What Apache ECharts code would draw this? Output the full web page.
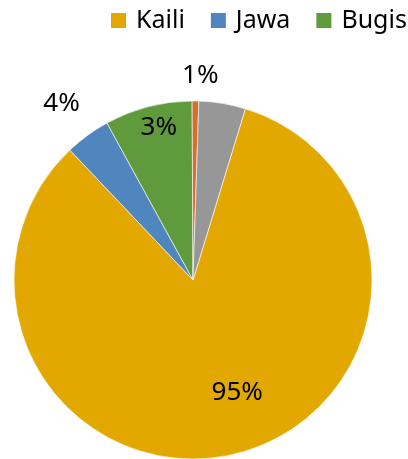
<!DOCTYPE html>
<html>
  <head>
    <meta charset="UTF-8">
    <title>Pie</title>
    <script src="https://cdn.jsdelivr.net/npm/echarts@6/dist/echarts.min.js"></script>
    <style>
      html, body { margin: 0; padding: 0; background: #fff; }
    </style>
  </head>
  <body>
    <div id="myChart" style="width: 408px;height:459px;"></div>
    <script type="text/javascript">
      // data (share of the circle, %)
      var names = ['Kaili', 'Jawa', 'Bugis', 'Toraja', 'Lainnya'];
      var values = [83.2, 4.1, 7.9, 0.6, 4.2];
      var labelText = ['95%', '4%', '3%', '1%', ''];
      var legendNames = ['Kaili', 'Jawa', 'Bugis'];

      var colors = ['#E3A800', '#4F86BE', '#5F9A3C', '#D4702C', '#979797'];
      // nudges of the labels from the mid-radius point
      var labelOffsets = [[23, 23], [-77, -102], [-11, -63], [6, -112], [0, 0]];

      var myChart = echarts.init(document.getElementById('myChart'));

      var option = {
        animation: false,
        color: colors,
        legend: {
          data: legendNames,
          left: 109,
          top: 8,
          width: 600,
          padding: 0,
          itemWidth: 17,
          itemHeight: 17,
          itemGap: 24,
          icon: 'rect',
          textStyle: {
            fontFamily: 'Noto Sans',
            fontSize: 25,
            color: '#000',
            padding: [0, 0, 0, 4]
          }
        },
        series: [{
          type: 'pie',
          center: [193, 280],
          radius: 179,
          startAngle: 73,
          clockwise: true,
          avoidLabelOverlap: false,
          itemStyle: {
            borderColor: '#fff',
            borderWidth: 0.6
          },
          labelLine: { show: false },
          emphasis: { disabled: true },
          data: names.map(function (n, i) {
            return {
              name: n,
              value: values[i],
              label: {
                show: labelText[i] !== '',
                position: 'inside',
                formatter: labelText[i],
                offset: labelOffsets[i],
                fontFamily: 'Noto Sans',
                fontSize: 26,
                color: '#000'
              }
            };
          })
        }]
      };
      myChart.setOption(option);
    </script>
  </body>
</html>
